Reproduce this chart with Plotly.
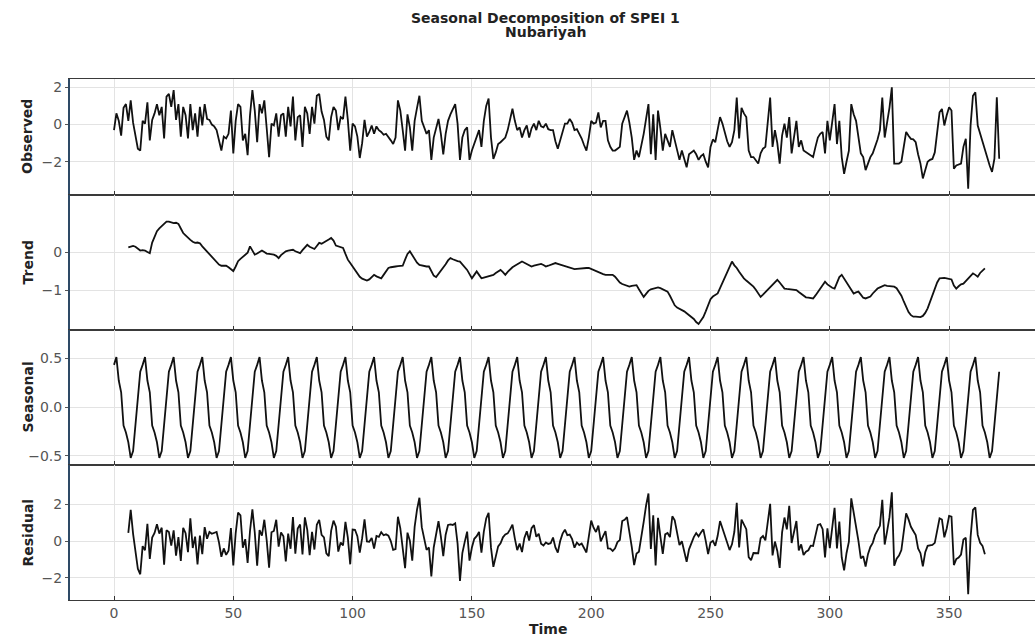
import numpy as np
import plotly.graph_objects as go
from plotly.subplots import make_subplots

# ---------------- data ----------------
time = list(range(372))

observed = [
    -0.3, 0.6, 0.2, -0.6, 0.9, 1.1, 0.2, 1.3, 0.1, -0.7,
    -1.3, -1.4, 0.2, 0.05, 1.2, -0.85, 0.25, 0.6, 1.1, 0.5,
    0.95, -0.75, 1.5, 1.65, 0.95, 1.85, 0.25, 1.1, -0.65, 0.95,
    0.5, -0.75, 1.1, -0.3, 0.6, -0.65, 0.95, -0.05, 1.1, 0.3,
    0.25, 0.0, -0.1, -0.3, -0.85, -1.4, -0.65, -0.75, -0.5, 0.75,
    -1.55, 0.2, 1.1, 0.95, -0.85, -0.5, -1.65, 0.5, 1.85, 0.75,
    -0.95, 1.1, 0.6, 1.3, -0.2, -1.75, 0.05, -0.05, 0.6, -0.65,
    0.5, 0.6, -0.65, 0.95, -0.1, 1.5, -0.85, 0.4, 0.5, -1.2,
    0.95, 0.6, -0.5, 0.95, 0.05, 1.55, 1.65, 0.7, 0.25, -0.65,
    -0.85, 0.4, 0.95, 0.75, -0.3, 0.4, 0.3, 1.5, 0.25, -1.4,
    0.05, -0.1, -0.65, -1.8, -1.0, 0.25, -0.65, -0.4, -0.05, -0.5,
    -0.1, -0.3, -0.4, -0.55, -0.5, -0.65, -0.85, -1.05, -0.7, 1.3,
    0.75, -0.3, -1.4, 0.55, -0.15, -1.4, 0.2, 0.9, 1.55, 0.2,
    -0.15, -0.5, -0.3, -1.9, -0.7, -0.2, 0.3, -0.5, -1.6, -0.5,
    0.2, 0.55, 0.8, 1.1, 0.05, -1.9, -0.7, -0.3, -0.15, -1.9,
    -1.4, -1.0, -0.7, -0.3, -1.2, 0.2, 1.0, 1.4, -0.7, -1.85,
    -1.5, -1.05, -0.95, -0.85, -0.7, -0.3, 0.3, 0.85, 0.2, -0.3,
    -0.15, -0.7, -0.3, -0.05, -0.7, -0.2, 0.05, -0.3, 0.2, -0.1,
    -0.15, 0.05, -0.25, -0.3, -0.3, -0.9, -1.3, -0.85, -0.4, 0.05,
    0.05, 0.3, 0.1, -0.3, -0.25, -0.5, -0.75, -1.1, -1.4, -0.7,
    0.2, 0.05, 0.1, 0.65, -0.15, 0.2, 0.2, -0.85, -1.2, -1.4,
    -1.4, -1.3, -1.2, 0.05, 0.4, 0.75, 0.1, -0.7, -1.9, -1.4,
    -1.75, -1.2, -0.5, 0.3, 1.1, -1.6, 0.55, -1.9, 0.75, -0.2,
    -1.4, -0.5, -0.8, -1.2, -0.3, -0.8, -1.4, -1.9, -1.4, -1.8,
    -2.3, -1.6, -1.5, -1.4, -1.6, -1.9, -1.7, -1.6, -2.0, -2.3,
    -1.2, -0.8, -0.95, -0.3, 0.4, 0.05, -0.5, -0.9, -1.2, -0.95,
    -0.3, 1.45, -0.75, 0.9, 0.6, 0.4, -1.4, -1.75, -1.75, -1.9,
    -2.1, -1.55, -1.3, -1.2, 0.2, 1.45, -1.2, -0.3, -1.0, -2.1,
    -0.6, 0.05, -0.7, 0.4, -1.55, -0.6, 0.2, -1.2, -0.85, -1.4,
    -1.5, -1.55, -1.65, -1.75, -1.2, -0.7, -0.5, -0.4, -1.55, 0.2,
    -0.85, 0.3, 1.1, -1.05, 0.2, -1.75, -2.65, -2.0, -1.4, 1.1,
    0.55, 0.2, -0.6, -1.55, -1.75, -2.45, -2.1, -1.75, -1.55, -1.2,
    -0.8, -0.3, 1.45, -0.7, 0.05, 0.9, 2.0, -2.1, -2.1, -2.1,
    -2.0, -1.2, -0.4, -0.6, -0.77, -0.8, -0.95, -1.6, -2.1, -2.9,
    -2.4, -2.0, -1.9, -1.85, -1.5, -0.5, 0.66, 0.84, -0.05, 0.5,
    0.93, 0.75, -2.37, -2.2, -2.15, -2.1, -1.2, -0.77, -3.45, -0.05,
    1.55, 1.73, -0.05, -0.5, -0.95, -1.4, -1.84, -2.2, -2.55, -1.84,
    1.46, -1.84,
]

trend_time = list(range(6, 366))
trend = [
    0.12, 0.13, 0.16, 0.14, 0.08, 0.04, 0.05, 0.04, 0.0, -0.03,
    0.25, 0.42, 0.55, 0.62, 0.68, 0.72, 0.8, 0.8, 0.77, 0.76,
    0.77, 0.74, 0.62, 0.5, 0.44, 0.37, 0.32, 0.27, 0.24, 0.25,
    0.23, 0.15, 0.08, 0.03, -0.05, -0.13, -0.2, -0.27, -0.33, -0.36,
    -0.37, -0.36, -0.4, -0.46, -0.5, -0.38, -0.24, -0.18, -0.13, -0.08,
    -0.02, 0.15, 0.02, -0.07, -0.04, 0.0, 0.04, 0.0, -0.04, -0.05,
    -0.06, -0.07, -0.1, -0.16, -0.08, -0.02, 0.02, 0.04, 0.05, 0.06,
    0.02, -0.01, -0.03, 0.05, 0.12, 0.19, 0.14, 0.1, 0.08, 0.16,
    0.24, 0.22, 0.25, 0.28, 0.33, 0.37, 0.3, 0.17, 0.15, 0.12,
    0.11, -0.05, -0.2, -0.29, -0.38, -0.45, -0.55, -0.65, -0.7, -0.73,
    -0.75, -0.72, -0.65, -0.6, -0.64, -0.67, -0.69, -0.6, -0.5, -0.42,
    -0.4, -0.38, -0.38, -0.37, -0.36, -0.36, -0.2, -0.05, 0.02, -0.08,
    -0.2, -0.28, -0.34, -0.36, -0.37, -0.38, -0.38, -0.5, -0.62, -0.66,
    -0.58, -0.48, -0.42, -0.32, -0.22, -0.16, -0.19, -0.22, -0.24, -0.25,
    -0.32, -0.4, -0.47, -0.58, -0.69, -0.6, -0.51, -0.6, -0.69, -0.67,
    -0.65, -0.63, -0.61, -0.6, -0.55, -0.5, -0.47, -0.53, -0.6, -0.52,
    -0.45, -0.4, -0.36, -0.32, -0.28, -0.25, -0.28, -0.32, -0.36, -0.38,
    -0.36, -0.34, -0.31, -0.31, -0.34, -0.38, -0.36, -0.33, -0.3, -0.29,
    -0.31, -0.33, -0.35, -0.37, -0.39, -0.41, -0.43, -0.45, -0.44, -0.43,
    -0.42, -0.42, -0.42, -0.42, -0.45, -0.48, -0.51, -0.54, -0.56, -0.58,
    -0.6, -0.6, -0.6, -0.6, -0.65, -0.72, -0.8, -0.84, -0.87, -0.9,
    -0.91, -0.89, -0.87, -0.87, -0.98, -1.08, -1.18, -1.1, -1.02, -0.98,
    -0.96, -0.94, -0.93, -0.95, -0.98, -1.01, -1.04, -1.15, -1.28, -1.4,
    -1.46, -1.49, -1.51, -1.56, -1.61, -1.66, -1.69, -1.76, -1.84, -1.89,
    -1.8, -1.71, -1.56, -1.4, -1.24, -1.17, -1.12, -1.09, -0.95, -0.8,
    -0.65, -0.5, -0.35, -0.25, -0.35, -0.42, -0.52, -0.62, -0.69, -0.75,
    -0.8, -0.86, -0.91, -0.99, -1.08, -1.18, -1.12, -1.05, -0.98, -0.92,
    -0.85, -0.78, -0.73, -0.8, -0.88, -0.96, -0.97, -0.98, -0.99, -1.0,
    -1.0, -1.05, -1.1, -1.15, -1.19, -1.2, -1.21, -1.22, -1.14, -1.05,
    -0.96, -0.85, -0.78, -0.85, -0.9, -0.94, -0.96, -0.8, -0.66, -0.6,
    -0.7, -0.82, -0.92, -1.02, -1.09, -1.06, -1.04, -1.12, -1.2, -1.22,
    -1.2, -1.17, -1.09, -1.01, -0.96, -0.93, -0.9, -0.87, -0.89, -0.9,
    -0.9, -0.91, -0.95, -1.05, -1.15, -1.3, -1.45, -1.58, -1.66, -1.7,
    -1.7, -1.71, -1.71, -1.68, -1.6, -1.48, -1.3, -1.12, -0.95, -0.8,
    -0.69, -0.68, -0.68, -0.69, -0.7, -0.72, -0.88, -0.96, -0.9, -0.85,
    -0.83, -0.76, -0.69, -0.62, -0.56, -0.6, -0.65, -0.55, -0.5, -0.43,
]

# one seasonal cycle (12 months), repeated by the decomposition
seasonal_cycle = [0.43, 0.51, 0.27, 0.15, -0.19, -0.26, -0.36, -0.52, -0.45, -0.19, 0.12, 0.36]

x_tick_values = [0, 50, 100, 150, 200, 250, 300, 350]
panel_names = ["Observed", "Trend", "Seasonal", "Residual"]
title_lines = ["Seasonal Decomposition of SPEI 1", "Nubariyah"]

# ---------------- derived components ----------------
obs = np.array(observed)
seasonal = np.array([seasonal_cycle[t % 12] for t in time])
tr = np.array(trend)
residual = obs[6:366] - tr - seasonal[6:366]

# ---------------- figure ----------------
W, H = 1035, 637
ml, mr, mt, mb = 70, 0, 79, 37
plot_h = H - mt - mb
plot_w = W - ml - mr

def ypx(p):
    return (H - mb - p) / plot_h

domains = [
    [ypx(195), 1.0],
    [ypx(330), ypx(195)],
    [ypx(465), ypx(330)],
    [0.0, ypx(465)],
]
yranges = [[-3.79, 2.45], [-2.05, 1.5], [-0.592, 0.786], [-3.19, 4.11]]
ytickvals = [[-2, 0, 2], [-1, 0], [-0.5, 0.0, 0.5], [-2, 0, 2]]
yticktext = [["−2", "0", "2"], ["−1", "0"], ["−0.5", "0.0", "0.5"], ["−2", "0", "2"]]

fig = make_subplots(rows=4, cols=1, vertical_spacing=0)

series = [
    (time, obs),
    (trend_time, tr),
    (time, seasonal),
    (trend_time, residual),
]
for i, (xs, ys) in enumerate(series):
    fig.add_trace(
        go.Scatter(x=xs, y=ys, mode="lines",
                   line=dict(color="#111111", width=1.8),
                   showlegend=False, hoverinfo="skip"),
        row=i + 1, col=1,
    )

x_range = [(ml - 114) / 2.386, (W - mr - 114) / 2.386]
grid_col = "#e3e3e3"
font_fam = "DejaVu Sans"

for i in range(4):
    xa = "xaxis" if i == 0 else f"xaxis{i+1}"
    ya = "yaxis" if i == 0 else f"yaxis{i+1}"
    fig.layout[xa].update(
        range=x_range, domain=[0, 1],
        tickvals=x_tick_values,
        showticklabels=(i == 3),
        ticks="inside", ticklen=4, tickcolor="#333333", tickwidth=1,
        showgrid=True, gridcolor=grid_col, gridwidth=1,
        showline=True, linecolor="#3a3a3a", linewidth=1, mirror=True,
        zeroline=False,
        tickfont=dict(family=font_fam, size=14, color="#555555"),
    )
    fig.layout[ya].update(
        range=yranges[i], domain=domains[i],
        tickvals=ytickvals[i], ticktext=yticktext[i],
        ticks="outside", ticklen=3, tickcolor="#555555",
        showgrid=True, gridcolor=grid_col, gridwidth=1,
        showline=True, linecolor="#2e4a66", linewidth=2,
        zeroline=False,
        tickfont=dict(family=font_fam, size=14, color="#555555"),
    )

annotations = []
for i, name in enumerate(panel_names):
    d = domains[i]
    annotations.append(dict(
        text=f"<b>{name}</b>", textangle=-90,
        xref="paper", yref="paper",
        x=(27 - ml) / plot_w, y=(d[0] + d[1]) / 2,
        xanchor="center", yanchor="middle", showarrow=False,
        font=dict(family=font_fam, size=14, color="#222222"),
    ))

annotations.append(dict(
    text="<b>Time</b>", xref="paper", yref="paper",
    x=(548 - ml) / plot_w, y=-(629 - (H - mb)) / plot_h,
    xanchor="center", yanchor="middle", showarrow=False,
    font=dict(family=font_fam, size=14, color="#222222"),
))
for k, (line, ypos) in enumerate(zip(title_lines, [18, 32])):
    annotations.append(dict(
        text=f"<b>{line}</b>",
        xref="paper", yref="paper",
        x=(545 - ml) / plot_w, y=1 + (mt - ypos) / plot_h,
        xanchor="center", yanchor="middle", showarrow=False,
        font=dict(family=font_fam, size=14, color="#222222"),
    ))

fig.update_layout(
    width=W, height=H,
    margin=dict(l=ml, r=mr, t=mt, b=mb, pad=0),
    paper_bgcolor="white", plot_bgcolor="white",
    annotations=annotations,
    showlegend=False,
)

fig.write_html("out.html")
